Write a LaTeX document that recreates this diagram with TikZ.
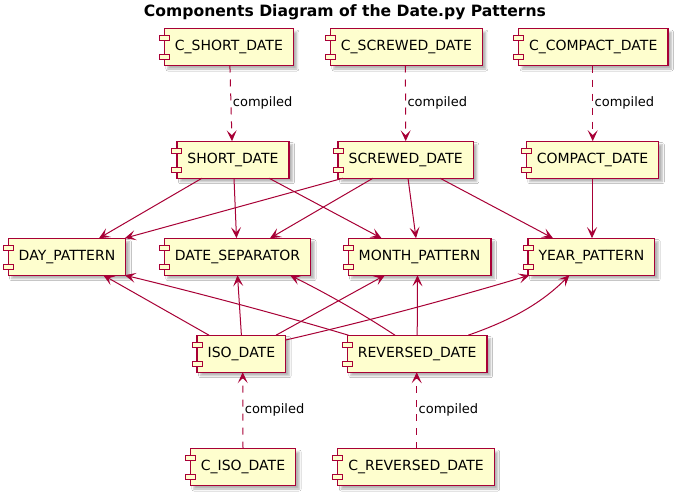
\documentclass[tikz,border=0pt]{standalone}
\usepackage{fontspec}
\setmainfont{DejaVu Sans}
\usetikzlibrary{arrows.meta,shadows.blur}
\definecolor{compfill}{HTML}{FEFECE}
\definecolor{compline}{HTML}{A80036}
\begin{document}
\begin{tikzpicture}[x=1pt,y=-1pt,
  comp/.style={draw=compline, fill=compfill, line width=1.4pt, outer sep=0pt,
    minimum height=37pt, inner xsep=10.5pt, inner ysep=0pt,
    font=\fontsize{14pt}{16pt}\selectfont,
    blur shadow={shadow xshift=3.5pt, shadow yshift=-3.5pt, shadow blur radius=2pt, shadow opacity=30}},
  icon/.style={draw=compline, fill=compfill, line width=1.1pt},
  dep/.style={draw=compline, line width=1pt, -{Stealth[length=11pt,width=10pt,inset=5pt]}},
  compiledlink/.style={dep, dash pattern=on 7pt off 7pt},
  lbl/.style={font=\fontsize{13pt}{15pt}\selectfont, inner xsep=1.5pt, inner ysep=0pt, anchor=west, text=black},
  titlestyle/.style={font=\bfseries\fontsize{15.6pt}{18pt}\selectfont, anchor=base, inner sep=0pt}]

\fill[white] (0,0) rectangle (679,495);
\useasboundingbox (0,0) rectangle (679,495);

\node[titlestyle] (title) at (345,16.5) {Components Diagram of the Date.py Patterns};

% compiled patterns
\node[comp] (CSHORT)   at (228.9,47) {C\_SHORT\_DATE};
\node[comp] (CSCREWED) at (406.4,47) {C\_SCREWED\_DATE};
\node[comp] (CCOMPACT) at (593.2,47) {C\_COMPACT\_DATE};

% date formats
\node[comp] (SHORT)   at (233,159.7)   {SHORT\_DATE};
\node[comp] (SCREWED) at (405.7,159.7) {SCREWED\_DATE};
\node[comp] (COMPACT) at (592.5,159.7) {COMPACT\_DATE};

% building blocks
\node[comp] (DAY)   at (67,256.7)    {DAY\_PATTERN};
\node[comp] (SEP)   at (237.5,256.7) {DATE\_SEPARATOR};
\node[comp] (MONTH) at (419.5,256.7) {MONTH\_PATTERN};
\node[comp] (YEAR)  at (591.4,256.7) {YEAR\_PATTERN};

% other formats
\node[comp] (ISO) at (241.4,353.7) {ISO\_DATE};
\node[comp] (REV) at (417.2,353.7) {REVERSED\_DATE};

\node[comp] (CISO) at (243,467) {C\_ISO\_DATE};
\node[comp] (CREV) at (416,467) {C\_REVERSED\_DATE};

% component glyphs on the left edge
\foreach \n in {CSHORT,CSCREWED,CCOMPACT,SHORT,SCREWED,COMPACT,DAY,SEP,MONTH,YEAR,ISO,REV,CISO,CREV}{
  \draw[icon] ([xshift=-5pt,yshift=-7pt]\n.north west) rectangle ++(10pt,-5pt);
  \draw[icon] ([xshift=-5pt,yshift=11pt]\n.south west) rectangle ++(10pt,-5pt);
}

% compiled links
\draw[compiledlink] ([xshift=1pt]CSHORT.south) -- node[lbl]{compiled} ([xshift=-1pt]SHORT.north);
\draw[compiledlink] ([xshift=-1pt]CSCREWED.south) -- node[lbl]{compiled} (SCREWED.north);
\draw[compiledlink] ([xshift=-0.5pt]CCOMPACT.south) -- node[lbl]{compiled} ([xshift=0.2pt]COMPACT.north);
\draw[compiledlink] (CISO.north) -- node[lbl]{compiled} ([xshift=1.3pt]ISO.south);
\draw[compiledlink] ([xshift=0.7pt]CREV.north) -- node[lbl]{compiled} ([xshift=-0.5pt]REV.south);

% SHORT_DATE
\draw[dep] ([xshift=-31pt]SHORT.south) -- ([xshift=32pt]DAY.north);
\draw[dep] ([xshift=1pt]SHORT.south) -- ([xshift=-1pt]SEP.north);
\draw[dep] ([xshift=36pt]SHORT.south) -- ([xshift=-38pt]MONTH.north);

% SCREWED_DATE
\draw[dep] ([xshift=-62.7pt]SCREWED.south) -- ([xshift=-1pt]DAY.north east);
\draw[dep] ([xshift=-32.7pt]SCREWED.south) -- ([xshift=32.5pt]SEP.north);
\draw[dep] ([xshift=2.3pt]SCREWED.south) -- ([xshift=-3.5pt]MONTH.north);
\draw[dep] ([xshift=34.3pt]SCREWED.south) -- ([xshift=-38.4pt]YEAR.north);

% COMPACT_DATE
\draw[dep] ([xshift=-0.5pt]COMPACT.south) -- ([xshift=0.6pt]YEAR.north);

% ISO_DATE
\draw[dep] ([xshift=-32.4pt]ISO.north) -- ([xshift=36.3pt]DAY.south);
\draw[dep] (ISO.north) -- (SEP.south);
\draw[dep] ([xshift=34.6pt]ISO.north) -- ([xshift=-34.5pt]MONTH.south);
\draw[dep] ([yshift=13.7pt]ISO.east) .. controls +(80,-18.4) and +(-80,24) .. ([xshift=1.5pt]YEAR.south west);

% REVERSED_DATE
\draw[dep] ([xshift=1pt]REV.north west) .. controls +(-70,-21) and +(70,17) .. ([xshift=-1pt]DAY.south east);
\draw[dep] ([xshift=-22.2pt]REV.north) .. controls +(-35,-23) and +(35,17.5) .. ([xshift=52.5pt]SEP.south);
\draw[dep] (REV.north) -- ([xshift=-2pt]MONTH.south);
\draw[dep] ([xshift=51pt]REV.north) .. controls +(40,-14) and +(-30,30) .. ([xshift=-22pt]YEAR.south);

\end{tikzpicture}
\end{document}
